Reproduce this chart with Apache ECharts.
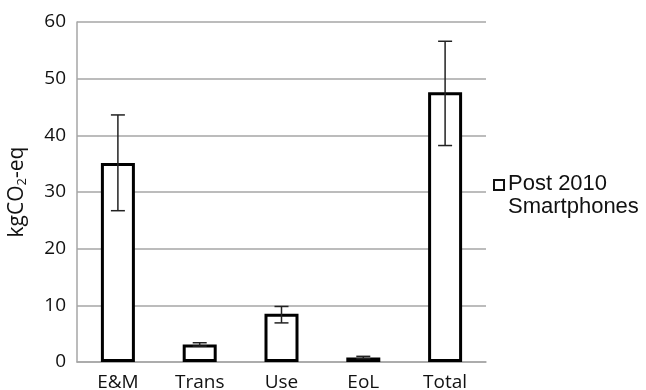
<!DOCTYPE html>
<html>
<head>
<meta charset="utf-8">
<script src="https://cdn.jsdelivr.net/npm/echarts@6/dist/echarts.min.js"></script>
<style>html,body{margin:0;padding:0;background:#fff;}#c{width:646px;height:390px;}</style>
</head>
<body>
<div id="c"></div>
<script>
var categories = ['E&M', 'Trans', 'Use', 'EoL', 'Total'];
var values = [35.1, 3.1, 8.5, 0.8, 47.6];
var errLow = [26.7, 2.8, 6.9, 0.6, 38.2];
var errHigh = [43.6, 3.4, 9.8, 1.0, 56.6];
var yTicks = [0, 10, 20, 30, 40, 50, 60];
var seriesName = 'Post 2010 Smartphones';
var legendLines = ['Post 2010', 'Smartphones'];

var chart = echarts.init(document.getElementById('c'));
var errData = categories.map(function (c, i) { return [i, errLow[i], errHigh[i]]; });
chart.setOption({
  animation: false,
  backgroundColor: '#fff',
  grid: { left: 77, right: 160, top: 22, bottom: 28, containLabel: false, outerBoundsMode: 'none' },
  legend: { show: false },
  graphic: [
    { type: 'rect', left: 493, top: 179, shape: { width: 10, height: 10 },
      style: { fill: '#fff', stroke: '#111', lineWidth: 2 } },
    { type: 'text', left: 508, top: 172,
      style: { text: legendLines.join('\n'), fontFamily: 'Liberation Sans', fontSize: 22, lineHeight: 23, fill: '#111' } }
  ],
  xAxis: {
    type: 'category', data: categories,
    axisLine: { lineStyle: { color: '#a6a6a6', width: 1.5 } },
    axisTick: { show: false },
    axisLabel: { fontFamily: 'Open Sans', fontSize: 19, color: '#111', margin: 11 }
  },
  yAxis: {
    type: 'value', min: 0, max: 60, interval: 10,
    axisLine: { show: true, lineStyle: { color: '#a6a6a6', width: 1.5 } },
    axisTick: { show: false },
    splitLine: { lineStyle: { color: '#a6a6a6', width: 1.5 } },
    axisLabel: { fontFamily: 'Open Sans', fontSize: 19, color: '#111', margin: 11,
      formatter: function (v) { return yTicks.indexOf(v) >= 0 ? String(v) : ''; } },
    name: '{a|kgCO}{s|2}{a|-eq}',
    nameLocation: 'middle', nameRotate: 90, nameGap: 48,
    nameTextStyle: {
      rich: {
        a: { fontFamily: 'Open Sans', fontSize: 21, color: '#111' },
        s: { fontFamily: 'Open Sans', fontSize: 13, color: '#111', padding: [10, 0, 0, 0] }
      }
    }
  },
  series: [
    {
      name: seriesName, type: 'bar', data: values, barWidth: 34,
      itemStyle: { color: '#fff', borderColor: '#000', borderWidth: 3 }
    },
    {
      type: 'custom', data: errData, z: 5,
      renderItem: function (params, api) {
        var x = api.value(0);
        var lo = api.coord([x, api.value(1)]);
        var hi = api.coord([x, api.value(2)]);
        var hw = 7;
        var st = { stroke: '#222', lineWidth: 1.5 };
        return { type: 'group', children: [
          { type: 'line', shape: { x1: lo[0], y1: lo[1], x2: hi[0], y2: hi[1] }, style: st },
          { type: 'line', shape: { x1: lo[0] - hw, y1: lo[1], x2: lo[0] + hw, y2: lo[1] }, style: st },
          { type: 'line', shape: { x1: hi[0] - hw, y1: hi[1], x2: hi[0] + hw, y2: hi[1] }, style: st }
        ]};
      }
    }
  ]
});
</script>
</body>
</html>
